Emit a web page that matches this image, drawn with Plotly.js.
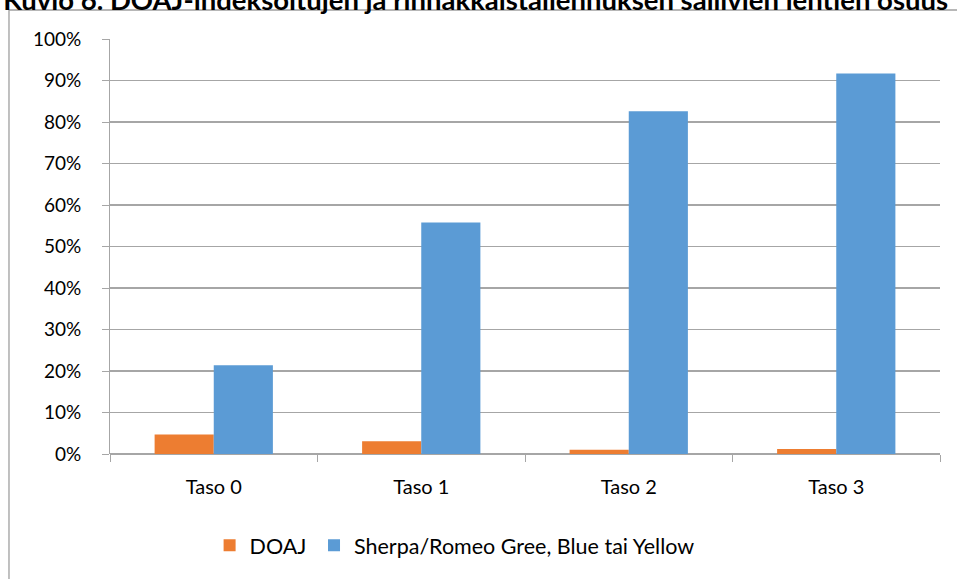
<!DOCTYPE html>
<html>
<head>
<meta charset="utf-8">
<script src="https://cdn.plot.ly/plotly-3.0.1.min.js"></script>
<style>html,body{margin:0;padding:0;background:#fff;}#chart{width:957px;height:579px;}</style>
</head>
<body>
<div id="chart"></div>
<script>
const categories = ["Taso 0", "Taso 1", "Taso 2", "Taso 3"];
const doajValues = [0.047, 0.031, 0.010, 0.012];
const sherpaValues = [0.214, 0.558, 0.826, 0.917];
const seriesNames = ["DOAJ", "Sherpa/Romeo Gree, Blue tai Yellow"];
const yTickValues = [0, 0.1, 0.2, 0.3, 0.4, 0.5, 0.6, 0.7, 0.8, 0.9, 1.0];
const yTickLabels = ["0%", "10%", "20%", "30%", "40%", "50%", "60%", "70%", "80%", "90%", "100%"];
const titleText = "Kuvio 6. DOAJ-indeksoitujen ja rinnakkaistallennuksen sallivien lehtien osuus";

const font = "Lato, 'Open Sans', 'Liberation Sans', sans-serif";

const traces = [
  {type: "bar", name: seriesNames[0], x: categories, y: doajValues, legend: "legend",
   marker: {color: "#ED7D31"}, hoverinfo: "none"},
  {type: "bar", name: seriesNames[1], x: categories, y: sherpaValues, legend: "legend2",
   marker: {color: "#5B9BD5"}, hoverinfo: "none"}
];

const legendFont = {family: font, size: 21.5, color: "#000"};

const layout = {
  width: 957, height: 579,
  margin: {l: 110, r: 17, t: 39, b: 125},
  paper_bgcolor: "#ffffff", plot_bgcolor: "#ffffff",
  barmode: "group", bargap: 0.43, bargroupgap: 0,
  title: {text: "<b>" + titleText + "</b>", x: 0.497, xref: "container", xanchor: "center",
          y: 1.0, yref: "container", yanchor: "middle",
          font: {family: font, size: 27.5, color: "#000000"}},
  font: {family: font, size: 20, color: "#000000"},
  xaxis: {type: "category", showgrid: false, showline: false, zeroline: false,
          ticks: "outside", tickson: "boundaries", ticklen: 7, tickcolor: "#a6a6a6", tickwidth: 1,
          ticklabelstandoff: 19,
          tickfont: {family: font, size: 20, color: "#000"}},
  yaxis: {range: [0, 1.0], tickvals: yTickValues, ticktext: yTickLabels,
          showgrid: true, gridcolor: "#a6a6a6", gridwidth: 1.3,
          showline: true, linecolor: "#a6a6a6", linewidth: 1,
          zeroline: true, zerolinecolor: "#a6a6a6", zerolinewidth: 1.3,
          ticks: "outside", ticklen: 7, tickcolor: "#a6a6a6",
          ticklabelstandoff: 17,
          tickfont: {family: font, size: 19, color: "#000"}},
  legend: {orientation: "h", x: 0.12, xanchor: "left", y: -0.22, yanchor: "middle",
           font: legendFont, bgcolor: "rgba(0,0,0,0)"},
  legend2: {orientation: "h", x: 0.2458, xanchor: "left", y: -0.22, yanchor: "middle",
           font: legendFont, bgcolor: "rgba(0,0,0,0)"},
  showlegend: true,
  shapes: [
    {type: "rect", xref: "paper", yref: "paper", x0: -0.1217, x1: 1.2, y0: -0.6, y1: 1.0699,
     line: {color: "#a0a0a0", width: 1.3}, fillcolor: "rgba(0,0,0,0)", layer: "below"}
  ]
};

Plotly.newPlot("chart", traces, layout, {displayModeBar: false, staticPlot: true});
</script>
</body>
</html>
